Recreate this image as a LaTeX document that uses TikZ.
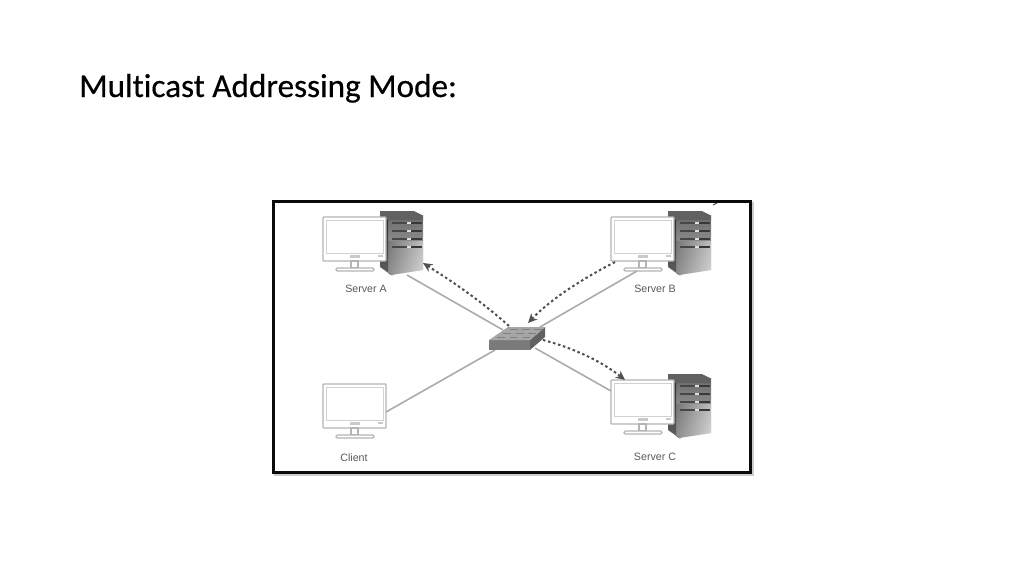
\documentclass[tikz,border=0pt]{standalone}
\usepackage{fontspec}
\setmainfont{Carlito}[Ligatures=NoCommon]
\newfontfamily\labelfont{Liberation Sans}
\usetikzlibrary{arrows.meta}
\definecolor{framecol}{HTML}{0A0A0A}
\definecolor{linecol}{HTML}{ABABAB}
\definecolor{dashcol}{HTML}{505050}
\definecolor{moncol}{HTML}{B4B4B4}
\definecolor{labcol}{HTML}{5A5A5A}
\tikzset{
  x=0.75pt,y=-0.75pt,
  link/.style={draw=linecol,line width=1.2pt},
  flow/.style={draw=dashcol,line width=1.5pt,dash pattern=on 1.9pt off 2pt,-{Stealth[length=7pt,width=6.5pt]}},
  caption/.style={font=\labelfont\fontsize{8pt}{9pt}\selectfont,text=labcol,inner sep=0pt},
  monitorline/.style={draw=moncol,line width=0.9pt,fill=white},
  pics/monitor/.style={code={
    \draw[monitorline,rounded corners=0.6pt] (0,0) rectangle (63,44);
    \draw[draw=moncol!60,line width=0.5pt] (3,3) rectangle (60,36);
    \fill[moncol!70] (27,38) rectangle (37,41);
    \fill[moncol!70] (55,38) rectangle (60,40);
    \draw[monitorline] (28,44) rectangle (35,51);
    \draw[monitorline,rounded corners=1pt] (13,51) rectangle (51,54);
  }},
  pics/tower/.style={code={
    \shade[top color=black!58,bottom color=black!30] (6,5) -- (43,4) -- (43,59) -- (11,64) -- (6,60) -- cycle;
    \shade[left color=black!62,right color=black!0,opacity=0.45] (8,30) -- (43,30) -- (43,59) -- (11,64) -- (8,62) -- cycle;
    \shade[top color=black!85,bottom color=black!62] (0,0) -- (8,4) -- (8,62) -- (13,65) -- (0,56) -- cycle;
    \fill[black!62] (0,0) -- (34,0) -- (42,4) -- (43,9) -- (8,9) -- (0,6) -- cycle;
    \foreach \yy in {11,19,27,35}{
      \fill[black!72] (12,\yy) rectangle (27,\yy+1.7);
      \fill[black!12] (27,\yy-0.5) rectangle (31,\yy+2.2);
      \fill[black!78] (31,\yy) rectangle (42,\yy+1.7);
    }
  }},
}
\begin{document}
\begin{tikzpicture}
\useasboundingbox (0,0) rectangle (1024,576);
% title
\node[anchor=base west,inner sep=0pt,text=black] (title) at (79,97) {\fontsize{24.9pt}{29pt}\selectfont\addfontfeature{FakeBold=0.4}Multicast Addressing Mode:};
% picture frame with its soft shadow
\fill[black!20] (274,202) rectangle (754,476);
\node[draw=framecol,line width=2.3pt,fill=white,minimum width=357.4pt,minimum height=203.3pt,inner sep=0pt,anchor=north west] (frame) at (272,200) {};
% tick at top right
\draw[black!70,line width=0.7pt] (713,205) -- (717,203);
% computers
\path (380,211) pic {tower};
\path (668,211) pic {tower};
\path (668,374) pic {tower};
\path (323,217) pic {monitor};
\path (611,217) pic {monitor};
\path (611,380) pic {monitor};
\path (323,384) pic {monitor};
% captions
\node[caption] (capA) at (366,289) {Server A};
\node[caption] (capB) at (655,289) {Server B};
\node[caption] (capC) at (655,457) {Server C};
\node[caption] (capD) at (354,458) {Client};
% connector ends
\coordinate (aEnd) at (407,275);
\coordinate (bEnd) at (637,271);
\coordinate (cEnd) at (611,391);
\coordinate (dEnd) at (386,412);
\coordinate (swA) at (503,330);
\coordinate (swB) at (540,327);
\coordinate (swC) at (535,348);
\coordinate (swD) at (495,350);
\coordinate (fA1) at (509,326);
\coordinate (fA2) at (423,263);
\coordinate (fB1) at (615,262);
\coordinate (fB2) at (528,323);
\coordinate (fC1) at (543,340);
\coordinate (fC2) at (625,380);
% links
\draw[link] (aEnd) -- (swA);
\draw[link] (bEnd) -- (swB);
\draw[link] (cEnd) -- (swC);
\draw[link] (dEnd) -- (swD);
% switch
\fill[black!52] (489,340) -- (530,340) -- (530,350) -- (489,350) -- cycle;
\fill[black!62] (530,340) -- (545,327) -- (545,337) -- (530,350) -- cycle;
\fill[black!35] (508,327) -- (545,327) -- (530,340) -- (489,340) -- cycle;
\foreach \xa/\ya in {510/329,522/329,534/329,503/333,516/333,528/333,497/337,510/337,522/337}{
  \fill[black!50] (\xa,\ya) rectangle (\xa+8,\ya+1.2);
}
% multicast flows
\draw[flow] (fA1) .. controls (480,300) and (450,280) .. (fA2);
\draw[flow] (fB1) .. controls (580,280) and (550,300) .. (fB2);
\draw[flow] (fC1) .. controls (570,347) and (600,360) .. (fC2);
\end{tikzpicture}
\end{document}
